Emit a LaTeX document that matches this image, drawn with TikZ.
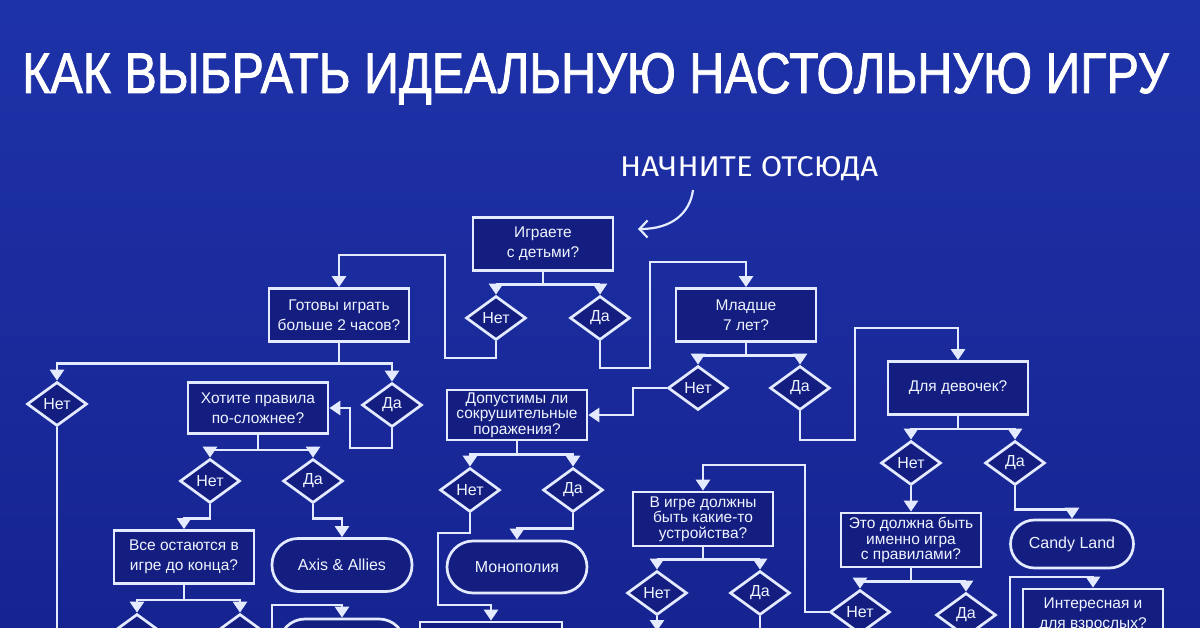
\documentclass[tikz,border=0pt]{standalone}
\usepackage{fontspec}
\setmainfont{Liberation Sans}
\newfontfamily\titlefont[FakeBold=1.6]{Liberation Sans}
\newfontfamily\handfont{Fira Sans}
\usetikzlibrary{shapes.geometric,arrows.meta}
\definecolor{bgtop}{RGB}{30,50,168}
\definecolor{bgbot}{RGB}{22,36,145}
\definecolor{boxfill}{RGB}{19,30,128}
\definecolor{linec}{RGB}{228,234,255}
\definecolor{textc}{RGB}{240,244,255}
\tikzset{
 every node/.style={text=textc},
 qbox/.style={draw=linec, line width=2.7pt, fill=boxfill, rectangle, align=center, inner sep=0pt, minimum width=140pt, minimum height=53pt, font=\fontsize{15.5}{20}\selectfont},
 qbox3/.style={qbox, font=\fontsize{15.5}{15.5}\selectfont},
 ans/.style={draw=linec, line width=2.7pt, fill=boxfill, diamond, inner sep=0pt, minimum width=60pt, minimum height=44pt, font=\fontsize{16}{16}\selectfont},
 term/.style={draw=linec, line width=2.7pt, fill=boxfill, rectangle, rounded corners=26pt, inner sep=0pt, minimum width=140pt, minimum height=53pt, font=\fontsize{16}{16}\selectfont},
 link/.style={draw=linec, line width=2.7pt},
 arr/.style={link, -{Triangle[width=14pt,length=11pt]}},
}
\begin{document}
\begin{tikzpicture}[x=1pt,y=-1pt]
\useasboundingbox (0,0) rectangle (1200,628);
\clip (0,0) rectangle (1200,628);
\shade[top color=bgtop, bottom color=bgbot] (0,0) rectangle (1200,628);

% title and start label
\node[anchor=base west, inner sep=0pt, text=white] (title) at (22,93) {\resizebox{1146pt}{40pt}{\titlefont КАК ВЫБРАТЬ ИДЕАЛЬНУЮ НАСТОЛЬНУЮ ИГРУ}};
\node[anchor=base west, inner sep=0pt, text=white] (start) at (620,177) {\resizebox{258pt}{20pt}{\handfont НАЧНИТЕ ОТСЮДА}};
\coordinate (sa) at (693,190);
\coordinate (sb) at (638,229);
\draw[link, line width=2.2pt, -{Straight Barb[length=8pt,width=17pt,line width=2.2pt]}] (sa) .. controls (690,213) and (672,229) .. (sb);

% question boxes
\node[qbox] (play) at (543,244) {Играете\\с детьми?};
\node[qbox] (long) at (339,315) {Готовы играть\\больше 2 часов?};
\node[qbox] (young) at (746,315) {Младше\\7 лет?};
\node[qbox, minimum height=51pt] (rules) at (258,408) {Хотите правила\\по-сложнее?};
\node[qbox3, minimum height=50pt] (crush) at (517,415) {Допустимы ли\\сокрушительные\\поражения?};
\node[qbox] (girls) at (958,388) {Для девочек?};
\node[qbox] (stay) at (184,557) {Все остаются в\\игре до конца?};
\node[qbox3, minimum height=54pt] (dev) at (703,519) {В игре должны\\быть какие-то\\устройства?};
\node[qbox3, minimum height=54pt] (must) at (911,540) {Это должна быть\\именно игра\\с правилами?};
\node[qbox, minimum height=52pt] (adult) at (1093,615) {Интересная и\\для взрослых?};
\node[qbox, minimum width=142pt, minimum height=52pt] (boxB) at (491,648) {};

% terminal boxes
\node[term] (axis) at (342,565) {Axis \& Allies};
\node[term, minimum height=52pt] (mono) at (517,567) {Монополия};
\node[term, minimum width=123pt, minimum height=48pt, rounded corners=24pt] (candy) at (1072,544) {Candy Land};
\node[term, minimum width=126pt, minimum height=52pt] (termB) at (342,645) {};

% answer diamonds
\node[ans] (playN) at (496,318) {Нет};
\node[ans] (playY) at (600,318) {Да};
\node[ans] (longN) at (57,404) {Нет};
\node[ans] (longY) at (392,405) {Да};
\node[ans] (youngN) at (698,388) {Нет};
\node[ans] (youngY) at (800,388) {Да};
\node[ans] (rulesN) at (210,481) {Нет};
\node[ans] (rulesY) at (313,481) {Да};
\node[ans] (crushN) at (470,490) {Нет};
\node[ans] (crushY) at (573,490) {Да};
\node[ans] (girlsN) at (911,463) {Нет};
\node[ans] (girlsY) at (1015,463) {Да};
\node[ans] (stayN) at (137,636) {Нет};
\node[ans] (stayY) at (240,636) {Да};
\node[ans] (devN) at (657,593) {Нет};
\node[ans] (devY) at (760,593) {Да};
\node[ans] (mustN) at (860,612) {Нет};
\node[ans] (mustY) at (966,615) {Да};

% free ends
\coordinate (c1) at (272,640);
\coordinate (c2) at (1010,640);
\coordinate (c3) at (657,631);
\coordinate (c4) at (760,640);
\coordinate (c5) at (57,640);
\coordinate (c6) at (860,640);
\coordinate (c7) at (966,640);

% connectors
\draw[arr] (play.south) -- ++(0,13) -| (playN.north);
\draw[arr] (play.south) -- ++(0,13) -| (playY.north);
\draw[arr] (playN.south) |- (445,358) -- (445,255) -| (long.north);
\draw[arr] (playY.south) |- (650,368) -- (650,262) -| (young.north);

\draw[arr] (long.south) -- ++(0,21) -| (longN.north);
\draw[arr] (long.south) -- ++(0,21) -| (longY.north);
\draw[arr] (longY.south) |- (350,448) |- (rules.east);
\draw[link] (longN.south) -- (c5);

\draw[arr] (young.south) -- ++(0,13) -| (youngN.north);
\draw[arr] (young.south) -- ++(0,13) -| (youngY.north);
\draw[arr] (youngN.west) -| (633,415) -- (crush.east);
\draw[arr] (youngY.south) |- (855,440) -- (855,328) -| (girls.north);

\draw[arr] (girls.south) -- ++(0,13) -| (girlsN.north);
\draw[arr] (girls.south) -- ++(0,13) -| (girlsY.north);
\draw[arr] (girlsN.south) -- (must.north);
\draw[arr] (girlsY.south) -- ++(0,23) -| (candy.north);

\draw[arr] (rules.south) -- ++(0,15) -| (rulesN.north);
\draw[arr] (rules.south) -- ++(0,15) -| (rulesY.north);
\draw[arr] (rulesN.south) -- ++(0,14) -| (stay.north);
\draw[arr] (rulesY.south) -- ++(0,14) -| (axis.north);

\draw[arr] (crush.south) -- ++(0,13) -| (crushN.north);
\draw[arr] (crush.south) -- ++(0,13) -| (crushY.north);
\draw[arr] (crushY.south) -- ++(0,15) -| (mono.north);
\draw[arr] (crushN.south) |- (438,533) -- (438,605) -| (boxB.north);

\draw[arr] (stay.south) -- ++(0,15) -| (stayN.north);
\draw[arr] (stay.south) -- ++(0,15) -| (stayY.north);
\draw[arr] (c1) -- (272,605) -| (termB.north);

\draw[arr] (must.south) -- ++(0,13) -| (mustN.north);
\draw[arr] (must.south) -- ++(0,13) -| (mustY.north);
\draw[arr] (mustN.west) -| (805,465) -| (dev.north);
\draw[link] (mustN.south) -- (c6);
\draw[link] (mustY.south) -- (c7);

\draw[arr] (dev.south) -- ++(0,12) -| (devN.north);
\draw[arr] (dev.south) -- ++(0,12) -| (devY.north);
\draw[arr] (devN.south) -- (c3);
\draw[link] (devY.south) -- (c4);

\draw[arr] (c2) -- (1010,577) -| (adult.north);
\end{tikzpicture}
\end{document}
